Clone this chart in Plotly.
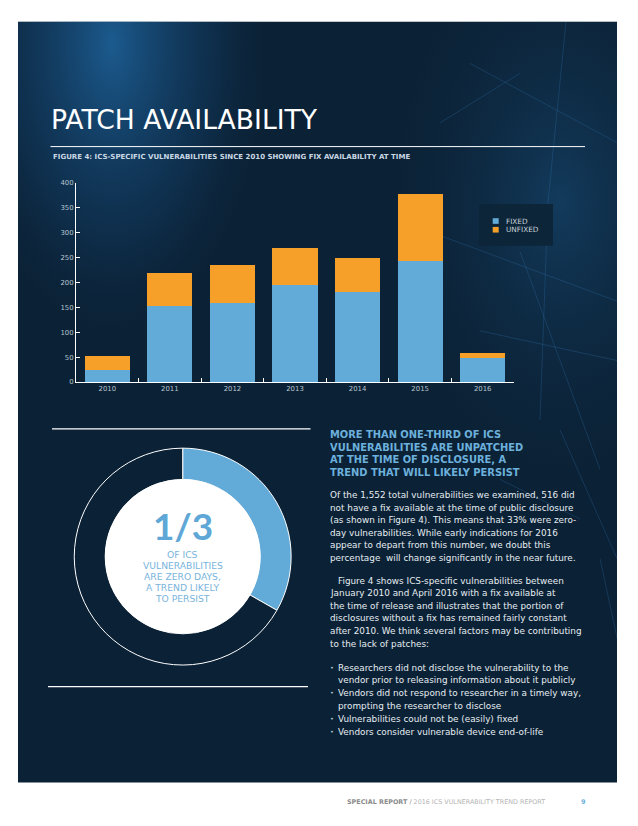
import numpy as np
import plotly.graph_objects as go

# ---------------- data ----------------
years = ["2010", "2011", "2012", "2013", "2014", "2015", "2016"]
fixed = [25, 153, 158, 194, 181, 244, 48]
unfixed = [27, 67, 78, 75, 69, 133, 11]
series_names = ["FIXED", "UNFIXED"]
y_ticks = [0, 50, 100, 150, 200, 250, 300, 350, 400]

donut_labels = ["Unpatched at disclosure", "Fix available"]
donut_values = [516, 1036]

title_text = "PATCH AVAILABILITY"
subtitle_text = "FIGURE 4: ICS-SPECIFIC VULNERABILITIES SINCE 2010 SHOWING FIX AVAILABILITY AT TIME"
donut_big = "1/3"
donut_lines = ["OF ICS", "VULNERABILITIES", "ARE ZERO DAYS,", "A TREND LIKELY", "TO PERSIST"]
heading_lines = ["MORE THAN ONE-THIRD OF ICS", "VULNERABILITIES ARE UNPATCHED",
                 "AT THE TIME OF DISCLOSURE, A", "TREND THAT WILL LIKELY PERSIST"]
para1_lines = ["Of the 1,552 total vulnerabilities we examined, 516 did",
               "not have a fix available at the time of public disclosure",
               "(as shown in Figure 4). This means that 33% were zero-",
               "day vulnerabilities. While early indications for 2016",
               "appear to depart from this number, we doubt this",
               "percentage  will change significantly in the near future."]
para2_lines = ["Figure 4 shows ICS-specific vulnerabilities between",
               "January 2010 and April 2016 with a fix available at",
               "the time of release and illustrates that the portion of",
               "disclosures without a fix has remained fairly constant",
               "after 2010. We think several factors may be contributing",
               "to the lack of patches:"]
bullet_lines = [(True, "Researchers did not disclose the vulnerability to the"),
                (False, "vendor prior to releasing information about it publicly"),
                (True, "Vendors did not respond to researcher in a timely way,"),
                (False, "prompting the researcher to disclose"),
                (True, "Vulnerabilities could not be (easily) fixed"),
                (True, "Vendors consider vulnerable device end-of-life")]

# ---------------- styling ----------------
W, H = 638, 826
FONT = "DejaVu Sans"
NAVY = "#0b2135"
BLUE = "#62aad8"
ORANGE = "#f6a02a"
LIGHTBLUE = "#6cb0dc"
BODY = 8.85


def px(x):
    return x / W


def py(y):
    return 1 - y / H


fig = go.Figure()

# background glow (decoration) on a hidden full-panel axis
t = np.linspace(0, 2 * np.pi, 80)
gx = 112 + 170 * np.cos(t)
gy = 40 + 320 * np.sin(t)
fig.add_trace(go.Scatter(
    x=gx, y=gy, xaxis="x", yaxis="y", mode="lines", line=dict(width=0),
    fill="toself", hoverinfo="skip", showlegend=False,
    fillgradient=dict(type="radial",
                      colorscale=[[0, "rgba(32,105,165,0.80)"], [0.6, "rgba(20,70,115,0.35)"],
                                  [1, "rgba(11,33,53,0)"]])))
gx2 = 560 + 200 * np.cos(t)
gy2 = 200 + 330 * np.sin(t)
fig.add_trace(go.Scatter(
    x=gx2, y=gy2, xaxis="x", yaxis="y", mode="lines", line=dict(width=0),
    fill="toself", hoverinfo="skip", showlegend=False,
    fillgradient=dict(type="radial",
                      colorscale=[[0, "rgba(25,80,125,0.55)"], [1, "rgba(11,33,53,0)"]])))

# faint network lines (decoration)
net = [((566, 18), (548, 200)), ((548, 200), (540, 420)), ((470, 60), (617, 140)),
       ((430, 230), (617, 300)), ((520, 250), (600, 470)), ((480, 330), (617, 360)),
       ((560, 430), (617, 560)), ((600, 560), (617, 640)), ((440, 120), (520, 70)),
       ((500, 480), (580, 520))]
for (a, b) in net:
    fig.add_trace(go.Scatter(x=[a[0], b[0]], y=[a[1], b[1]], xaxis="x", yaxis="y",
                             mode="lines", line=dict(color="rgba(50,120,180,0.28)", width=1),
                             hoverinfo="skip", showlegend=False))

# stacked bars
fig.add_trace(go.Bar(x=years, y=fixed, name=series_names[0], xaxis="x2", yaxis="y2",
                     marker=dict(color=BLUE, line=dict(width=0)), width=0.72, showlegend=False))
fig.add_trace(go.Bar(x=years, y=unfixed, name=series_names[1], xaxis="x2", yaxis="y2",
                     marker=dict(color=ORANGE, line=dict(width=0)), width=0.72, showlegend=False))

# donut
cx, cy, R = 182.7, 558.0, 109.5
fig.add_trace(go.Pie(labels=donut_labels, values=donut_values, sort=False, direction="clockwise",
                     rotation=0, hole=0.712, textinfo="none", hoverinfo="label+value",
                     marker=dict(colors=[BLUE, NAVY], line=dict(color="white", width=1)),
                     domain=dict(x=[px(cx - R), px(cx + R)], y=[py(cy + R), py(cy - R)]),
                     showlegend=False))

shapes = []
# panel
shapes.append(dict(type="rect", xref="paper", yref="paper", x0=px(18), x1=px(617),
                   y0=py(786), y1=py(18), fillcolor=NAVY, line=dict(width=0), layer="below"))
# title rule
shapes.append(dict(type="line", xref="paper", yref="paper", x0=px(50.5), x1=px(585),
                   y0=py(144), y1=py(144), line=dict(color="white", width=1)))
# legend box and swatches
shapes.append(dict(type="rect", xref="paper", yref="paper", x0=px(479), x1=px(553),
                   y0=py(244), y1=py(202), fillcolor="#0c2539", line=dict(width=0)))
shapes.append(dict(type="rect", xref="paper", yref="paper", x0=px(492.7), x1=px(498.7),
                   y0=py(222), y1=py(216.3), fillcolor=BLUE, line=dict(width=0)))
shapes.append(dict(type="rect", xref="paper", yref="paper", x0=px(492.7), x1=px(498.7),
                   y0=py(230.8), y1=py(225.1), fillcolor=ORANGE, line=dict(width=0)))
# donut rules
shapes.append(dict(type="line", xref="paper", yref="paper", x0=px(52), x1=px(310.5),
                   y0=py(429), y1=py(429), line=dict(color="white", width=1.2)))
shapes.append(dict(type="line", xref="paper", yref="paper", x0=px(48), x1=px(308),
                   y0=py(689.3), y1=py(689.3), line=dict(color="white", width=1.2)))
# donut centre
r_in = 78
shapes.append(dict(type="circle", xref="paper", yref="paper", x0=px(cx - r_in), x1=px(cx + r_in),
                   y0=py(cy + r_in), y1=py(cy - r_in), fillcolor="white", line=dict(width=0),
                   layer="above"))

ann = []


def text(x, y, s, size, color, bold=False, anchor="left", family=FONT):
    ann.append(dict(x=px(x), y=py(y), xref="paper", yref="paper", text=(f"<b>{s}</b>" if bold else s),
                    showarrow=False, xanchor=anchor, yanchor="middle",
                    font=dict(family=family, size=size, color=color)))


text(49, 116.5, title_text, 26.6, "white")
text(50.5, 155, subtitle_text, 7.0, "#c9d8e4", bold=True)
text(503.5, 219.3, series_names[0], 7.3, "#c9d3da")
text(503.5, 228.1, series_names[1], 7.3, "#c9d3da")

# donut text
text(cx, 527, donut_big, 37, "#5ea7d6", bold=True, anchor="center", family="Lato")
for i, s in enumerate(donut_lines):
    text(cx, 556 + i * 11.2, s, 9.2, "#78b4dc", anchor="center")

for i, s in enumerate(heading_lines):
    text(327.5, 435 + i * 12.6, s, 9.9, LIGHTBLUE, bold=True)
for i, s in enumerate(para1_lines):
    text(327.5, 496.3 + i * 12.6, s, BODY, "#e6edf2")
for i, s in enumerate(para2_lines):
    text(336.5 if i == 0 else 327.5, 582.3 + i * 12.7, s, BODY, "#e6edf2")
for i, (b, s) in enumerate(bullet_lines):
    yy = 670 + i * 13.0
    if b:
        text(327.5, yy, "•", 6.5, "#b9c6d0")
    text(335.5, yy, s, BODY, "#e6edf2")

# footer
ann.append(dict(x=px(345), y=py(805.5), xref="paper", yref="paper", showarrow=False,
                xanchor="left", yanchor="middle",
                text="<b><span style='color:#8c8c8c'>SPECIAL REPORT</span></b>"
                     "<span style='color:#8c8c8c'> / </span>"
                     "<span style='color:#b4b4b4'>2016 ICS VULNERABILITY TREND REPORT</span>",
                font=dict(family=FONT, size=6.4)))
ann.append(dict(x=px(583), y=py(805.5), xref="paper", yref="paper", showarrow=False,
                xanchor="center", yanchor="middle", text="<b>9</b>",
                font=dict(family=FONT, size=6.5, color=LIGHTBLUE)))

fig.update_layout(
    width=W, height=H, margin=dict(l=0, r=0, t=0, b=0),
    paper_bgcolor="white", plot_bgcolor="rgba(0,0,0,0)",
    barmode="stack", bargap=0.28, showlegend=False,
    shapes=shapes, annotations=ann,
    font=dict(family=FONT),
    xaxis=dict(domain=[px(18), px(617)], range=[18, 617], visible=False, fixedrange=True),
    yaxis=dict(domain=[py(786), py(18)], range=[786, 18], visible=False, fixedrange=True),
    xaxis2=dict(domain=[px(76), px(514)], anchor="y2", type="category", categoryorder="array",
                categoryarray=years, tickson="boundaries", ticks="inside", ticklen=4,
                tickcolor="white", tickwidth=1, showline=True, linecolor="white", linewidth=1,
                showgrid=False, zeroline=False,
                tickfont=dict(family=FONT, size=6.9, color="#b9c6d0")),
    yaxis2=dict(domain=[py(381.7), py(180.7)], anchor="x2", range=[0, 400], tickvals=y_ticks,
                ticks="inside", ticklen=4, tickcolor="white", tickwidth=1, showline=True,
                linecolor="white", linewidth=1, showgrid=False, zeroline=False,
                tickfont=dict(family=FONT, size=6.9, color="#b9c6d0")),
)

fig.write_html("out.html", config={"displayModeBar": False},
               post_script="document.body.style.margin='0px';")
